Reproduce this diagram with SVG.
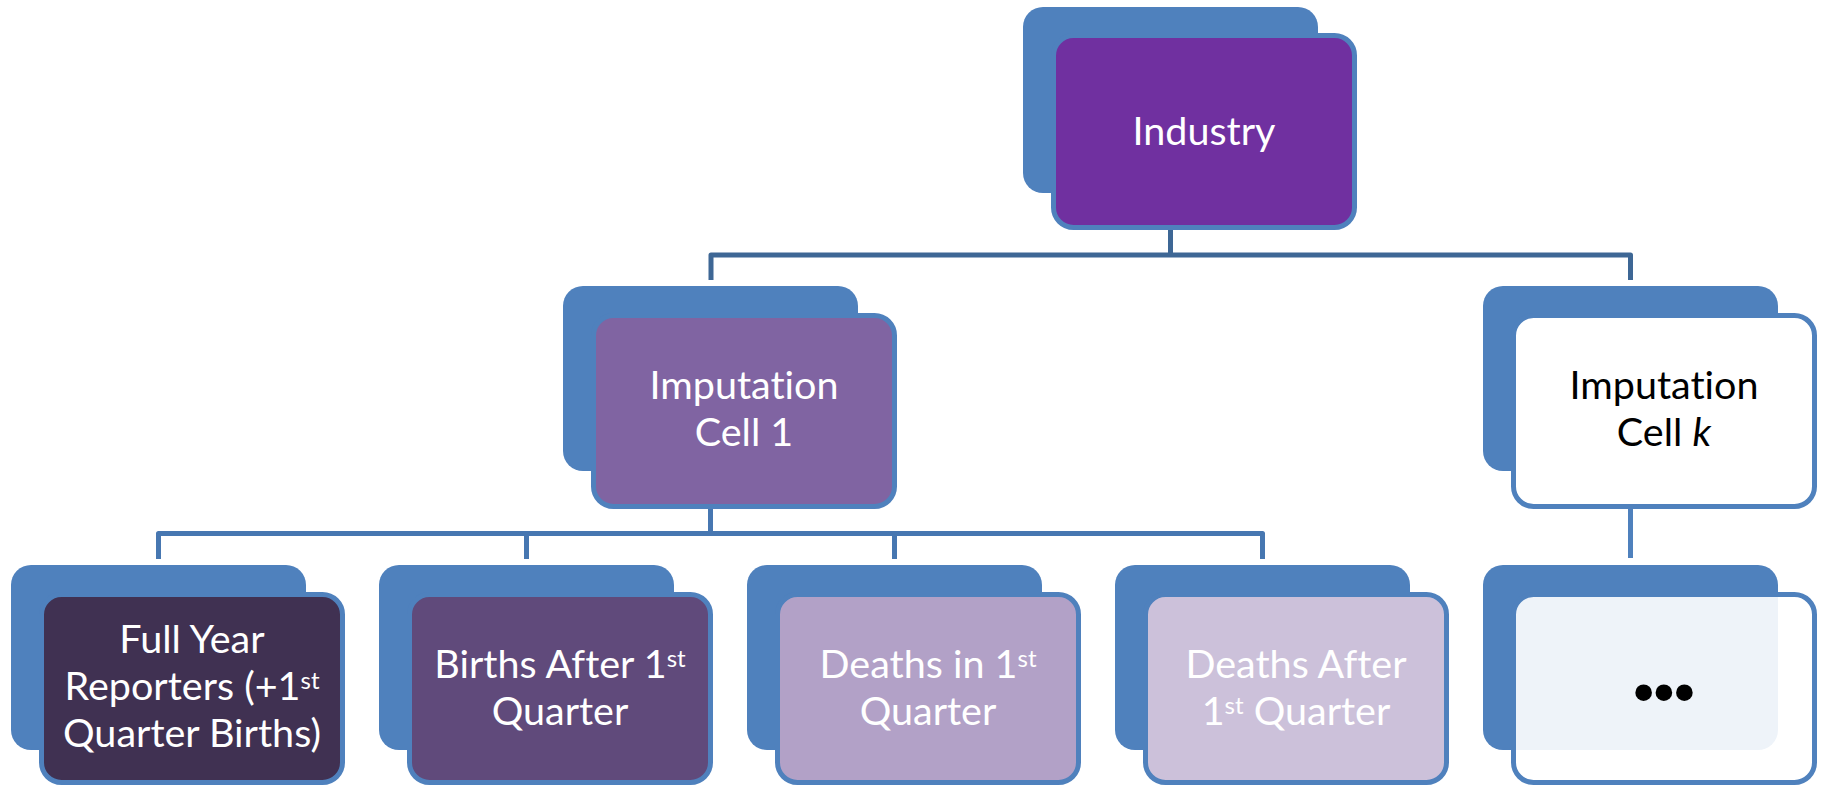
<svg xmlns="http://www.w3.org/2000/svg" width="1823" height="786" viewBox="0 0 1823 786">
  <style>
    .back { fill: #4F81BD; }
    .front { stroke: #4F81BD; stroke-width: 5; }
    .conn { fill: none; stroke-width: 5; stroke-linejoin: round; }
    .t { font-family: Lato, "Open Sans", sans-serif; font-size: 39.5px; text-anchor: middle; font-variant-ligatures: none; }
    .w { fill: #FFFFFF; }
    .k { fill: #000000; }
    .sup { font-size: 24px; }
  </style>
  <rect width="1823" height="786" fill="#FFFFFF"/>
  <g id="connectors">
    <path class="conn" stroke="#3E6795" d="M711,280 V255 H1630.5 V280 M1170.5,230 V255"/>
    <path class="conn" stroke="#4777B1" d="M158.5,559 V533.5 H1262.5 V559 M526.5,533.5 V559 M894.5,533.5 V559 M710.5,509 V533.5"/>
    <path class="conn" stroke="#4F81BD" d="M1630.5,508 V558"/>
  </g>
  <g id="industry">
    <rect class="back" x="1023" y="7" width="295" height="186" rx="20"/>
    <rect class="front" x="1053.5" y="35.5" width="301" height="192" rx="20" fill="#7030A0"/>
    <text class="t w" x="1204" y="145">Industry</text>
  </g>
  <g id="cell1">
    <rect class="back" x="563" y="286" width="295" height="185" rx="20"/>
    <rect class="front" x="593.5" y="315.5" width="301" height="191" rx="20" fill="#8064A2"/>
    <text class="t w" x="744" y="399">Imputation</text>
    <text class="t w" x="744" y="446">Cell 1</text>
  </g>
  <g id="cellk">
    <rect class="back" x="1483" y="286" width="295" height="185" rx="20"/>
    <rect class="front" x="1513.5" y="315.5" width="301" height="191" rx="20" fill="#FFFFFF"/>
    <text class="t k" x="1664" y="399">Imputation</text>
    <text class="t k" x="1664" y="446">Cell <tspan font-style="italic">k</tspan></text>
  </g>
  <g id="fullyear">
    <rect class="back" x="11" y="565" width="295" height="185" rx="20"/>
    <rect class="front" x="41.5" y="594.5" width="301" height="188" rx="20" fill="#403152"/>
    <text class="t w" x="192" y="653">Full Year</text>
    <text class="t w" x="192" y="700">Reporters (+1<tspan class="sup" dy="-11">st</tspan></text>
    <text class="t w" x="192" y="747">Quarter Births)</text>
  </g>
  <g id="births">
    <rect class="back" x="379" y="565" width="295" height="185" rx="20"/>
    <rect class="front" x="409.5" y="594.5" width="301" height="188" rx="20" fill="#604A7B"/>
    <text class="t w" x="560" y="678">Births After 1<tspan class="sup" dy="-11">st</tspan></text>
    <text class="t w" x="560" y="725">Quarter</text>
  </g>
  <g id="deaths1">
    <rect class="back" x="747" y="565" width="295" height="185" rx="20"/>
    <rect class="front" x="777.5" y="594.5" width="301" height="188" rx="20" fill="#B2A1C7"/>
    <text class="t w" x="928" y="678">Deaths in 1<tspan class="sup" dy="-11">st</tspan></text>
    <text class="t w" x="928" y="725">Quarter</text>
  </g>
  <g id="deathsafter">
    <rect class="back" x="1115" y="565" width="295" height="185" rx="20"/>
    <rect class="front" x="1145.5" y="594.5" width="301" height="188" rx="20" fill="#CCC1DA"/>
    <text class="t w" x="1296" y="678">Deaths After</text>
    <text class="t w" x="1296" y="725">1<tspan class="sup" dy="-11">st</tspan><tspan dy="11"> Quarter</tspan></text>
  </g>
  <g id="more">
    <rect class="back" x="1483" y="565" width="295" height="185" rx="20"/>
    <rect class="front" x="1513.5" y="594.5" width="301" height="188" rx="20" fill="#FFFFFF" fill-opacity="0.9"/>
    <text x="1664" y="712" font-family="'Liberation Sans', sans-serif" font-size="58" font-weight="bold" text-anchor="middle" fill="#000000">•••</text>
  </g>
</svg>
